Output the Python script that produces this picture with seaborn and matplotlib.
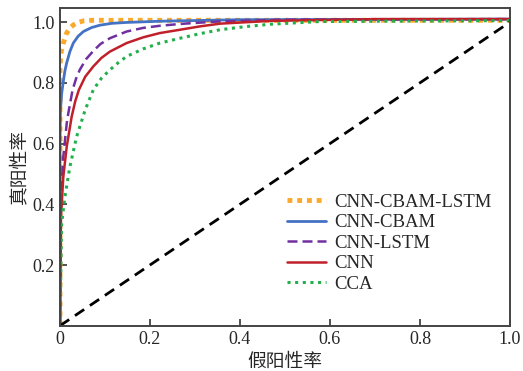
import numpy as np
import pandas as pd
import matplotlib
matplotlib.use("Agg")
import matplotlib.pyplot as plt
import seaborn as sns

# ---- data ----
names = ["CNN-CBAM-LSTM", "CNN-CBAM", "CNN-LSTM", "CNN", "CCA"]

fpr_cbam_lstm = [0, 0, 0.003, 0.0074, 0.0148, 0.022, 0.03, 0.04, 0.052, 0.07, 0.1, 0.3, 1.0]
tpr_cbam_lstm = [0, 0.86, 0.905, 0.931, 0.964, 0.98, 0.991, 0.999, 1.004, 1.006, 1.006, 1.006, 1.006]

fpr_cbam = [0, 0, 0.001, 0.0037, 0.0074, 0.011, 0.0148, 0.022, 0.0296, 0.04, 0.052, 0.07, 0.089, 0.115, 0.148, 0.222, 0.4, 1.0]
tpr_cbam = [0, 0.6, 0.71, 0.765, 0.805, 0.84, 0.865, 0.903, 0.931, 0.953, 0.969, 0.982, 0.99, 0.996, 0.999, 1.003, 1.008, 1.01]

fpr_lstm = [0, 0.002, 0.0074, 0.015, 0.0185, 0.028, 0.036, 0.044, 0.058, 0.074, 0.09, 0.111, 0.148, 0.185, 0.222, 0.267, 0.35, 0.5, 1.0]
tpr_lstm = [0, 0.425, 0.557, 0.667, 0.70, 0.777, 0.815, 0.843, 0.878, 0.905, 0.928, 0.947, 0.969, 0.981, 0.988, 0.994, 1.002, 1.008, 1.01]

fpr_cnn = [0, 0.0022, 0.0074, 0.015, 0.026, 0.034, 0.042, 0.056, 0.074, 0.092, 0.111, 0.148, 0.185, 0.222, 0.267, 0.311, 0.356, 0.467, 0.7, 1.0]
tpr_cnn = [0, 0.36, 0.491, 0.59, 0.689, 0.74, 0.777, 0.82, 0.854, 0.882, 0.903, 0.931, 0.95, 0.964, 0.975, 0.986, 0.995, 1.004, 1.01, 1.01]

fpr_cca = [0, 0.0037, 0.011, 0.022, 0.037, 0.056, 0.074, 0.092, 0.111, 0.13, 0.148, 0.185, 0.222, 0.267, 0.311, 0.356, 0.411, 0.467, 0.578, 0.689, 1.0]
tpr_cca = [0, 0.338, 0.425, 0.524, 0.623, 0.711, 0.777, 0.815, 0.843, 0.867, 0.887, 0.912, 0.931, 0.947, 0.962, 0.975, 0.985, 0.993, 1.002, 1.003, 1.005]

diag_x = [0, 1]
diag_y = [0, 1]

xticks = [0, 0.2, 0.4, 0.6, 0.8, 1.0]
xticklabels = ["0", "0.2", "0.4", "0.6", "0.8", "1.0"]
yticks = [0.2, 0.4, 0.6, 0.8, 1.0]
yticklabels = ["0.2", "0.4", "0.6", "0.8", "1.0"]

xlabel = "假阳性率"
ylabel = "真阳性率"

# ---- styling ----
sns.set_style("ticks")
plt.rcParams["font.family"] = ["Liberation Serif", "Noto Sans CJK SC", "DejaVu Sans"]
plt.rcParams["xtick.direction"] = "in"
plt.rcParams["ytick.direction"] = "in"

fig = plt.figure(figsize=(5.23, 3.71), dpi=100)
ax = fig.add_axes([0.1147, 0.122, 0.975 - 0.1147, 0.978 - 0.122])

series = [
    (fpr_cbam_lstm, tpr_cbam_lstm, "#FBA92A", (0, (1, 1)), 3.5),
    (fpr_cbam, tpr_cbam, "#4472C4", "-", 2.0),
    (fpr_lstm, tpr_lstm, "#7030A0", (0, (4, 2)), 1.8),
    (fpr_cnn, tpr_cnn, "#C0202A", "-", 1.8),
    (fpr_cca, tpr_cca, "#22B04C", (0, (1, 1.5)), 2.2),
]

for name, (fx, fy, col, ls, lw) in zip(names, series):
    df = pd.DataFrame({"fpr": fx, "tpr": fy})
    sns.lineplot(data=df, x="fpr", y="tpr", ax=ax, color=col, linestyle=ls,
                 linewidth=lw, label=name, estimator=None, sort=False)

ddf = pd.DataFrame({"x": diag_x, "y": diag_y})
sns.lineplot(data=ddf, x="x", y="y", ax=ax, color="black", linestyle=(0, (4, 2.5)),
             linewidth=2.0, estimator=None, sort=False, legend=False)

ax.set_xlim(0, 1.0)
ax.set_ylim(0, 1.046)
ax.set_xticks(xticks)
ax.set_xticklabels(xticklabels, fontsize=13)
ax.set_yticks(yticks)
ax.set_yticklabels(yticklabels, fontsize=13)
ax.tick_params(length=5, width=1.2, color="#333333", pad=4)
for s in ax.spines.values():
    s.set_linewidth(1.4)
    s.set_color("#444444")

ax.set_xlabel(xlabel, fontsize=13.5, family=["Noto Sans CJK SC"], labelpad=2)
ax.set_ylabel(ylabel, fontsize=13.5, family=["Noto Sans CJK SC"], labelpad=2)

leg = ax.legend(loc="lower right", bbox_to_anchor=(0.975, 0.08), frameon=False,
                fontsize=13.5, handlelength=2.1, handletextpad=0.4,
                labelspacing=0.18, borderaxespad=0)

fig.savefig("out.png", dpi=100)
